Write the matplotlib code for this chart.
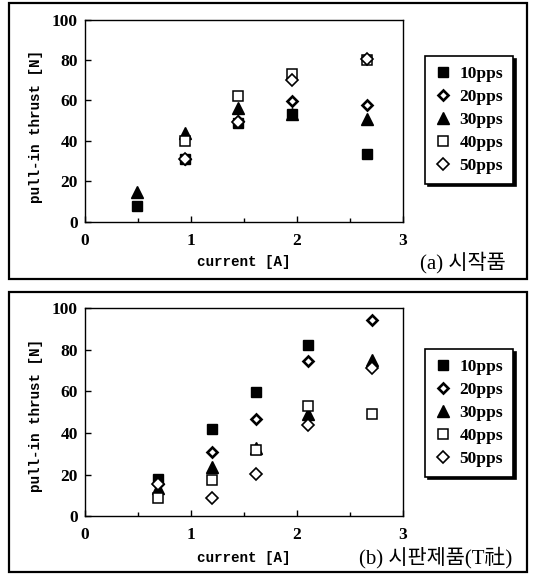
import numpy as np
import matplotlib
matplotlib.use("Agg")
import matplotlib.pyplot as plt
from matplotlib.patches import Rectangle
from matplotlib.ticker import MultipleLocator

# ---------------- data ----------------
series = ["10pps", "20pps", "30pps", "40pps", "50pps"]

x_a = [0.49, 0.94, 1.44, 1.95, 2.66]
a_10 = [7.5, 31, 49, 53, 33.5]
a_20 = [np.nan, 31, 50, 59.5, 57.5]
a_30 = [14.5, 44, 56, 53, 50.5]
a_40 = [np.nan, 40, 62, 73, 80]
a_50 = [np.nan, 31, 49.5, 70, 80.5]

x_b = [0.69, 1.20, 1.61, 2.10, 2.71]
b_10 = [18, 41.8, 59.5, 82, np.nan]
b_20 = [15.5, 31, 46.7, 74.5, 94]
b_30 = [13.6, 23.6, 32.7, 49.3, 75]
b_40 = [8.8, 17.5, 32, 52.8, 49]
b_50 = [15.5, 8.7, 20.4, 44, 71]

xticks = [0, 1, 2, 3]
yticks = [0, 20, 40, 60, 80, 100]
xlabel = "current [A]"
ylabel = "pull-in thrust [N]"
caption_a = "(a) 시작품"
caption_b = "(b) 시판제품(T社)"

# ---------------- style ----------------
W, H = 534, 574
DPI = 100
fig = plt.figure(figsize=(W / DPI, H / DPI), dpi=DPI)
fig.patch.set_facecolor("white")

tick_font = dict(family="Liberation Serif", weight="bold", size=12.5)
label_font = dict(family="Liberation Mono", weight="bold", size=10.3)
cap_family = ["Liberation Serif", "Noto Sans CJK KR"]

styles = [
    dict(marker="s", ms=7.5, mfc="black", mec="black", mew=1.0),
    dict(marker="D", ms=5.2, mfc="white", mec="black", mew=1.9),
    dict(marker="^", ms=8.0, mfc="black", mec="black", mew=1.0),
    dict(marker="s", ms=7.6, mfc="white", mec="black", mew=1.1),
    dict(marker="D", ms=6.6, mfc="white", mec="black", mew=1.2),
]


def px_axes(left, top, right, bottom):
    return [left / W, 1 - bottom / H, (right - left) / W, (bottom - top) / H]


def frame(top, bottom, left=9, right=527):
    r = Rectangle((left / W, 1 - bottom / H), (right - left) / W, (bottom - top) / H,
                  transform=fig.transFigure, fill=False, lw=1.6, ec="black")
    fig.add_artist(r)


def panel(rect, xs, ys_list, legend_top, ylab_y, xlab_y, caption, cap_x, cap_y):
    ax = fig.add_axes(rect)
    handles = []
    for name, ys, st in zip(series, ys_list, styles):
        h, = ax.plot(xs, ys, linestyle="none", label=name, **st)
        handles.append(h)
    ax.set_xlim(0, 3)
    ax.set_ylim(0, 100)
    ax.set_xticks(xticks)
    ax.set_yticks(yticks)
    ax.xaxis.set_minor_locator(MultipleLocator(0.5))
    ax.tick_params(which="both", direction="in", width=1.0)
    ax.tick_params(which="major", length=4.5)
    ax.tick_params(which="minor", length=3)
    ax.tick_params(axis="x", pad=8)
    ax.tick_params(axis="y", pad=5)
    for lab in ax.get_xticklabels() + ax.get_yticklabels():
        lab.set_fontfamily(tick_font["family"])
        lab.set_fontweight(tick_font["weight"])
        lab.set_fontsize(tick_font["size"])
    for sp in ax.spines.values():
        sp.set_linewidth(1.0)
    ax.set_xlabel(xlabel, va="center", **label_font)
    ax.xaxis.set_label_coords(0.5, xlab_y)
    ax.set_ylabel(ylabel, va="center", **label_font)
    ax.yaxis.set_label_coords(-0.154, ylab_y)

    leg = ax.legend(handles=handles, loc="upper left",
                    bbox_to_anchor=(425 / W, 1 - legend_top / H),
                    bbox_transform=fig.transFigure, borderaxespad=0,
                    prop=dict(family="Liberation Serif", weight="bold", size=12.5),
                    frameon=True, fancybox=False, edgecolor="black",
                    shadow={"color": "black", "alpha": 1.0},
                    handlelength=1.0, handletextpad=0.45, borderpad=0.55,
                    labelspacing=0.40)
    leg.get_frame().set_linewidth(1.2)
    leg.get_frame().set_alpha(1.0)

    fig.text(cap_x / W, 1 - cap_y / H, caption, ha="left", va="center",
             family=cap_family, fontsize=15)
    return ax


frame(2.7, 279)
frame(291.7, 571.7)

panel(px_axes(85, 19.5, 403, 221.5), x_a, [a_10, a_20, a_30, a_40, a_50],
      legend_top=56, ylab_y=0.47, xlab_y=-0.2, caption=caption_a, cap_x=420, cap_y=263)
panel(px_axes(85, 308, 403, 516.3), x_b, [b_10, b_20, b_30, b_40, b_50],
      legend_top=349, ylab_y=0.486, xlab_y=-0.199, caption=caption_b, cap_x=359, cap_y=558)

fig.savefig("out.png", dpi=DPI, facecolor="white")
